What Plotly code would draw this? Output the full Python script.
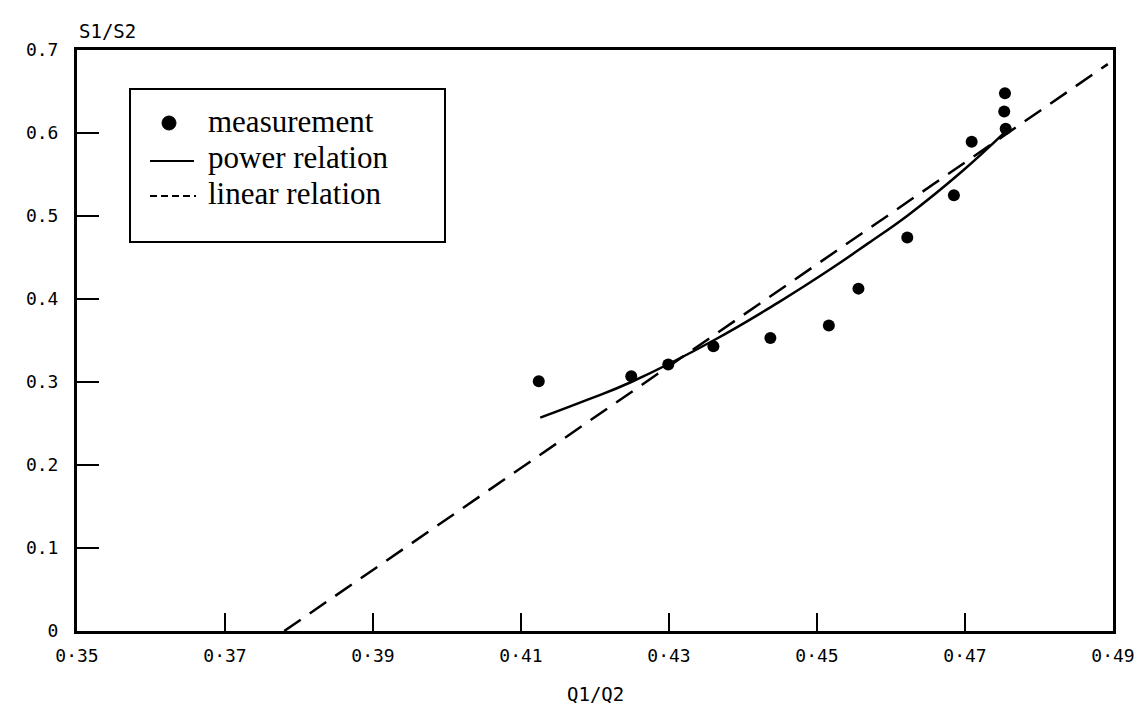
import plotly.graph_objects as go

# measurement points
meas_x = [0.4124, 0.4249, 0.4299, 0.4360, 0.4437, 0.4516, 0.4556, 0.4622, 0.4685, 0.4709, 0.4755, 0.4753, 0.4754]
meas_y = [0.301, 0.307, 0.321, 0.343, 0.353, 0.368, 0.4125, 0.474, 0.525, 0.5895, 0.605, 0.626, 0.648]

# power relation curve
power_x = [0.4126, 0.4191, 0.4249, 0.4360, 0.4448, 0.4520, 0.4569, 0.4623, 0.4695, 0.4755]
power_y = [0.257, 0.279, 0.300, 0.350, 0.396, 0.437, 0.467, 0.501, 0.553, 0.602]

# linear relation line (end points)
linear_x = [0.378, 0.4893]
linear_y = [0.0, 0.683]

x_ticks = [0.35, 0.37, 0.39, 0.41, 0.43, 0.45, 0.47, 0.49]
x_tick_text = ["0·35", "0·37", "0·39", "0·41", "0·43", "0·45", "0·47", "0·49"]
y_ticks = [0, 0.1, 0.2, 0.3, 0.4, 0.5, 0.6, 0.7]
y_tick_text = ["0", "0.1", "0.2", "0.3", "0.4", "0.5", "0.6", "0.7"]

legend_labels = ["measurement", "power relation", "linear relation"]

W, H = 1142, 706
L, R, T, B = 69, 37, 42, 83
PW, PH = W - L - R, H - T - B


def px(xp):
    return (xp - L) / PW


def py(yp):
    return (H - B - yp) / PH


fig = go.Figure()
fig.add_trace(go.Scatter(x=meas_x, y=meas_y, mode="markers", name=legend_labels[0],
                         marker=dict(color="black", size=12)))
fig.add_trace(go.Scatter(x=power_x, y=power_y, mode="lines", name=legend_labels[1],
                         line=dict(color="black", width=2.5, shape="spline", smoothing=1.2)))
fig.add_trace(go.Scatter(x=linear_x, y=linear_y, mode="lines", name=legend_labels[2],
                         line=dict(color="black", width=2.5, dash="20px,11px")))

tick_font = dict(family="DejaVu Sans Mono", size=18, color="black")
title_font = dict(family="DejaVu Sans Mono", size=19, color="black")
legend_font = dict(family="Liberation Serif", size=31, color="black")

shapes = [
    # legend box
    dict(type="rect", xref="paper", yref="paper",
         x0=px(122), x1=px(437), y0=py(234), y1=py(81),
         line=dict(color="black", width=2)),
    # legend symbol: marker
    dict(type="circle", xref="paper", yref="paper",
         x0=px(154), x1=px(168), y0=py(122), y1=py(108),
         fillcolor="black", line=dict(color="black", width=1)),
    # legend symbol: solid line
    dict(type="line", xref="paper", yref="paper",
         x0=px(142), x1=px(186), y0=py(153), y1=py(153),
         line=dict(color="black", width=1.8)),
    # legend symbol: dashed line
    dict(type="line", xref="paper", yref="paper",
         x0=px(142), x1=px(188), y0=py(188), y1=py(188),
         line=dict(color="black", width=1.8, dash="7px,4px")),
]

annotations = [
    dict(text="S1/S2", xref="paper", yref="paper", x=0.0, y=1.0, xanchor="left",
         yanchor="bottom", yshift=6, showarrow=False, font=title_font),
    dict(text="Q1/Q2", xref="paper", yref="paper", x=0.5, y=0.0, xanchor="center",
         yanchor="top", yshift=-50, showarrow=False, font=title_font),
]
for label, yc in zip(legend_labels, [113, 150, 185]):
    annotations.append(dict(text=label, xref="paper", yref="paper", x=px(198), y=py(yc),
                            xanchor="left", yanchor="middle", showarrow=False,
                            font=legend_font))

fig.update_layout(
    width=W, height=H,
    margin=dict(l=L, r=R, t=T, b=B),
    paper_bgcolor="white", plot_bgcolor="white",
    showlegend=False,
    shapes=shapes,
    annotations=annotations,
)
fig.update_xaxes(range=[0.35, 0.49], tickvals=x_ticks, ticktext=x_tick_text,
                 ticks="inside", ticklen=18, tickwidth=1.5, tickcolor="black",
                 showline=True, linewidth=3, linecolor="black", mirror=True,
                 showgrid=False, zeroline=False, tickfont=tick_font,
                 ticklabelstandoff=6)
fig.update_yaxes(range=[0, 0.7], tickvals=y_ticks, ticktext=y_tick_text,
                 ticks="inside", ticklen=22, tickwidth=1.5, tickcolor="black",
                 showline=True, linewidth=3, linecolor="black", mirror=True,
                 showgrid=False, zeroline=False, tickfont=tick_font,
                 ticklabelstandoff=12)

fig.write_html("out.html")
